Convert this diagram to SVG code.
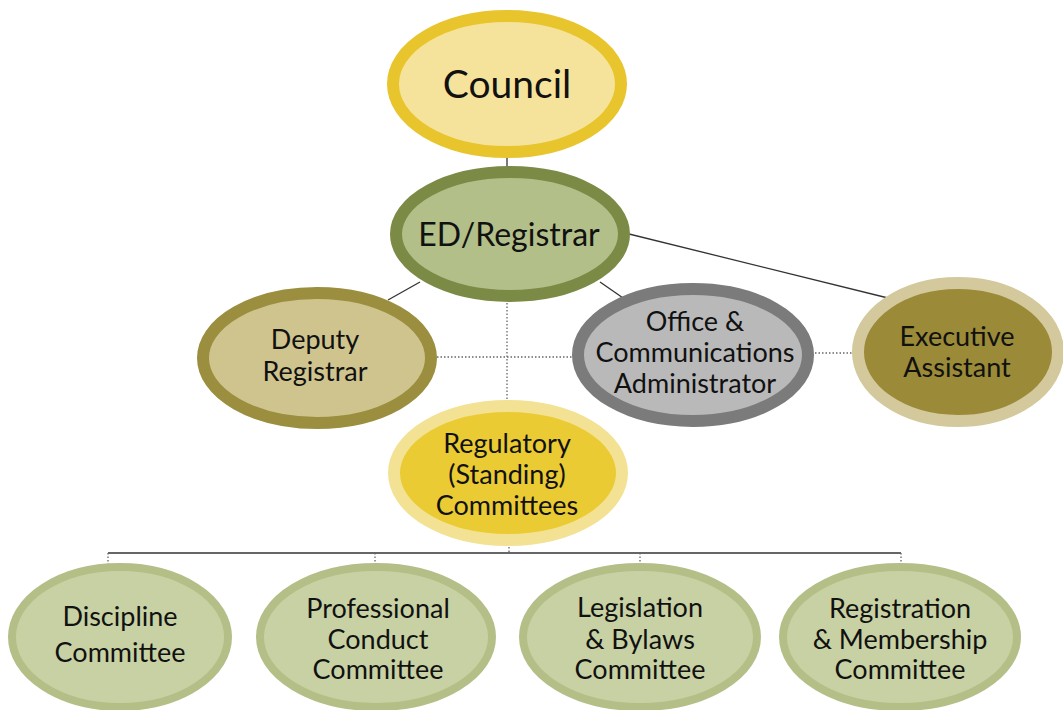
<svg xmlns="http://www.w3.org/2000/svg" width="1063" height="710" viewBox="0 0 1063 710">
<style>
text{font-family:Lato,"Open Sans","Liberation Sans",sans-serif;fill:#111;text-anchor:middle}
.t{font-size:27px}
.solid{stroke:#333;stroke-width:1.3;fill:none}
.dot{stroke:#666;stroke-width:1.3;stroke-dasharray:1.5 2;fill:none}
</style>
<rect width="1063" height="710" fill="#fff"/>
<g id="connectors">
<line class="solid" x1="507" y1="150" x2="507" y2="175"/>
<line class="solid" x1="388" y1="300" x2="420" y2="282"/>
<line class="solid" x1="600" y1="282" x2="626" y2="300"/>
<line class="solid" x1="625" y1="233" x2="888" y2="298"/>
<line class="dot" x1="430" y1="357" x2="580" y2="357"/>
<line class="dot" x1="808" y1="353" x2="858" y2="353"/>
<line class="dot" x1="507" y1="296" x2="507" y2="406"/>
<line class="dot" x1="509" y1="540" x2="509" y2="553"/>
<line class="solid" x1="108" y1="553" x2="901" y2="553"/>
<line class="dot" x1="108" y1="553" x2="108" y2="572"/>
<line class="dot" x1="375" y1="553" x2="375" y2="572"/>
<line class="dot" x1="640" y1="553" x2="640" y2="572"/>
<line class="dot" x1="901" y1="553" x2="901" y2="572"/>
</g>
<g id="council">
<ellipse cx="507" cy="84" rx="114" ry="68" fill="#f6e39b" stroke="#e9c52d" stroke-width="12"/>
<text x="507" y="98" font-size="39">Council</text>
</g>
<g id="ed-registrar">
<ellipse cx="510" cy="234" rx="114" ry="62" fill="#b2bf89" stroke="#7b8b46" stroke-width="12"/>
<text x="509" y="246" font-size="32">ED/Registrar</text>
</g>
<g id="deputy-registrar">
<ellipse cx="317" cy="358" rx="114" ry="65" fill="#cfc48e" stroke="#9b8e3f" stroke-width="12"/>
<text class="t" x="315" y="349" font-size="28">Deputy</text>
<text class="t" x="315" y="381" font-size="28">Registrar</text>
</g>
<g id="office-admin">
<ellipse cx="693" cy="355" rx="115" ry="66" fill="#b9b9b9" stroke="#7b7b7b" stroke-width="12"/>
<text class="t" x="695" y="331">Office &amp;</text>
<text class="t" x="695" y="362">Communications</text>
<text class="t" x="695" y="393">Administrator</text>
</g>
<g id="executive-assistant">
<ellipse cx="958" cy="352" rx="100" ry="69" fill="#9b8a37" stroke="#d3c99c" stroke-width="12"/>
<text class="t" x="957" y="346">Executive</text>
<text class="t" x="957" y="377">Assistant</text>
</g>
<g id="regulatory">
<ellipse cx="508" cy="473" rx="114" ry="67" fill="#eacb33" stroke="#f3e293" stroke-width="12"/>
<text class="t" x="507" y="453">Regulatory</text>
<text class="t" x="507" y="484">(Standing)</text>
<text class="t" x="507" y="515">Committees</text>
</g>
<g id="discipline">
<ellipse cx="120" cy="637" rx="108" ry="70" fill="#c8d1a3" stroke="#b4bf88" stroke-width="8"/>
<text class="t" x="120" y="626" font-size="29">Discipline</text>
<text class="t" x="120" y="662" font-size="29">Committee</text>
</g>
<g id="professional-conduct">
<ellipse cx="376" cy="637" rx="116" ry="70" fill="#c8d1a3" stroke="#b4bf88" stroke-width="8"/>
<text class="t" x="378" y="618">Professional</text>
<text class="t" x="378" y="649">Conduct</text>
<text class="t" x="378" y="679">Committee</text>
</g>
<g id="legislation-bylaws">
<ellipse cx="640" cy="637" rx="117" ry="70" fill="#c8d1a3" stroke="#b4bf88" stroke-width="8"/>
<text class="t" x="640" y="617">Legislation</text>
<text class="t" x="640" y="649">&amp; Bylaws</text>
<text class="t" x="640" y="679">Committee</text>
</g>
<g id="registration-membership">
<ellipse cx="900" cy="637" rx="117" ry="70" fill="#c8d1a3" stroke="#b4bf88" stroke-width="8"/>
<text class="t" x="900" y="618">Registration</text>
<text class="t" x="900" y="649">&amp; Membership</text>
<text class="t" x="900" y="679">Committee</text>
</g>
</svg>
